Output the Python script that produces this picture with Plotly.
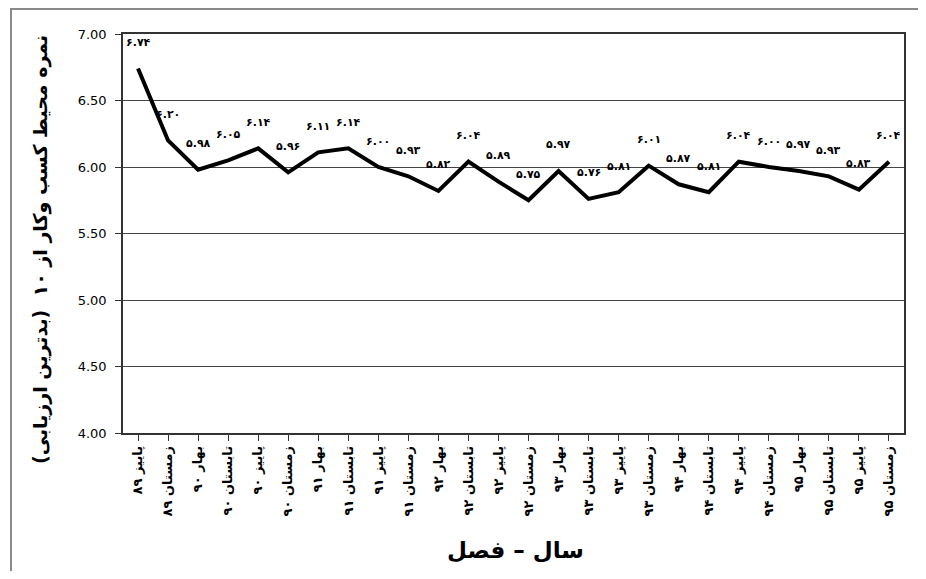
import plotly.graph_objects as go

seasons = ["پاییز ۸۹", "زمستان ۸۹", "بهار ۹۰", "تابستان ۹۰", "پاییز ۹۰", "زمستان ۹۰",
           "بهار ۹۱", "تابستان ۹۱", "پاییز ۹۱", "زمستان ۹۱", "بهار ۹۲", "تابستان ۹۲",
           "پاییز ۹۲", "زمستان ۹۲", "بهار ۹۳", "تابستان ۹۳", "پاییز ۹۳", "زمستان ۹۳",
           "بهار ۹۴", "تابستان ۹۴", "پاییز ۹۴", "زمستان ۹۴", "بهار ۹۵", "تابستان ۹۵",
           "پاییز ۹۵", "زمستان ۹۵"]
scores = [6.74, 6.20, 5.98, 6.05, 6.14, 5.96, 6.11, 6.14, 6.00, 5.93, 5.82, 6.04, 5.89,
          5.75, 5.97, 5.76, 5.81, 6.01, 5.87, 5.81, 6.04, 6.00, 5.97, 5.93, 5.83, 6.04]
y_ticks = [4.0, 4.5, 5.0, 5.5, 6.0, 6.5, 7.0]
x_title = "سال – فصل"
y_title = "نمره محیط کسب وکار از ۱۰  (بدترین ارزیابی)"

fa_digits = str.maketrans("0123456789", "۰۱۲۳۴۵۶۷۸۹")
def fa(v):
    return f"{v:.2f}".translate(fa_digits)

x_pos = list(range(len(seasons)))

fig = go.Figure()
fig.add_trace(go.Scatter(x=x_pos, y=scores, mode="lines",
                         line=dict(color="black", width=4), hoverinfo="skip"))

for i, v in enumerate(scores):
    fig.add_annotation(x=i, y=v, text="<b>" + fa(v) + "</b>", showarrow=False, yshift=26,
                       font=dict(family="DejaVu Sans", size=11, color="black"))

# page body has an 8px margin; figure coords = screen coords - 8
W, H = 910, 563
ML, MR, MT, MB = 115, 14, 26, 138
pw, ph = W - ML - MR, H - MT - MB
fx = (3 - ML) / pw
fy = 1 + (MT - 1) / ph
fig.add_shape(type="path", xref="paper", yref="paper",
              path=f"M {fx},-0.6 L {fx},{fy} L 1.2,{fy}",
              line=dict(color="#8a8a8a", width=2))

# axis titles as annotations (centred where the reference places them)
fig.add_annotation(xref="paper", yref="paper", x=(32 - ML) / pw, y=1 - (242 - MT) / ph,
                   xanchor="center", yanchor="middle",
                   text="<b>" + y_title + "</b>", textangle=-90, showarrow=False,
                   font=dict(family="DejaVu Sans", size=19, color="black"))
fig.add_annotation(xref="paper", yref="paper", x=(507 - ML) / pw, y=1 - (542 - MT) / ph,
                   xanchor="center", yanchor="middle",
                   text="<b>" + x_title + "</b>", showarrow=False,
                   font=dict(family="DejaVu Sans", size=23, color="black"))

fig.update_layout(
    width=W, height=H,
    margin=dict(l=ML, r=MR, t=MT, b=MB),
    paper_bgcolor="white", plot_bgcolor="white",
    showlegend=False,
    xaxis=dict(
        range=[-0.5, len(seasons) - 0.5],
        tickmode="array", tickvals=x_pos, ticktext=["<b>" + s + "</b>" for s in seasons],
        tickangle=-90,
        tickfont=dict(family="DejaVu Sans", size=13, color="black"),
        ticks="outside", ticklen=6, tickcolor="#333", tickwidth=1,
        showline=True, linecolor="#333", linewidth=1.5, mirror=True,
        showgrid=False, zeroline=False,
    ),
    yaxis=dict(
        range=[4.0, 7.0],
        tickmode="array", tickvals=y_ticks, ticktext=[f"{t:.2f}" for t in y_ticks],
        tickfont=dict(family="DejaVu Sans", size=13, color="black"),
        ticks="outside", ticklen=6, tickcolor="#333", ticklabelstandoff=6,
        showline=True, linecolor="#333", linewidth=1.5, mirror=True,
        showgrid=True, gridcolor="#444", gridwidth=1,
        zeroline=False,
    ),
)

fig.write_html("out.html")
